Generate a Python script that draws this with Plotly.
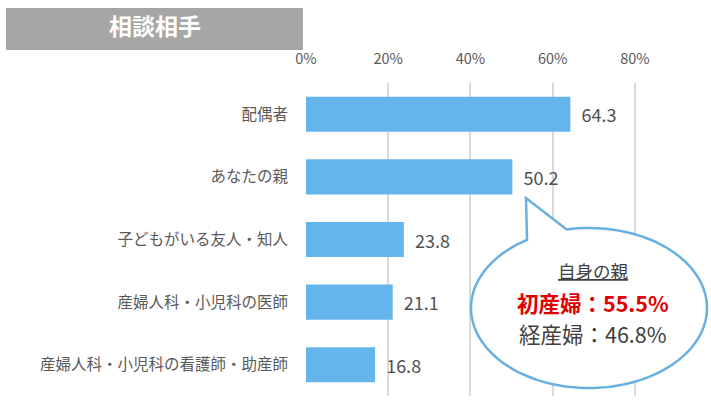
import numpy as np
import plotly.graph_objects as go

categories = ["配偶者", "あなたの親", "子どもがいる友人・知人",
              "産婦人科・小児科の医師", "産婦人科・小児科の看護師・助産師"]
values = [64.3, 50.2, 23.8, 21.1, 16.8]
tick_vals = [0, 20, 40, 60, 80]
tick_text = ["0%", "20%", "40%", "60%", "80%"]
title_text = "相談相手"
callout_title = "自身の親"
callout_first = "初産婦：55.5%"
callout_second = "経産婦：46.8%"

W, H = 711, 403
L, R, T, B = 306, 35, 83, 7
PW, PH = W - L - R, H - T - B

def px(x):
    return (x - L) / PW

def py(y):
    return (H - B - y) / PH

FONT = "Noto Sans CJK JP, Meiryo, sans-serif"

fig = go.Figure(go.Bar(
    x=values, y=categories, orientation="h",
    marker=dict(color="#64b5e9", line=dict(width=0)),
    text=[f"  {v:.1f}" for v in values], textposition="outside",
    textfont=dict(size=18, color="#505050", family=FONT),
    cliponaxis=False,
))

# callout bubble path (decoration)
cx, cy, rx, ry = 589, 308, 118, 80
tip = (526, 198)
t_right = np.degrees(np.arctan2(-0.9625, -0.186))
t_left = np.degrees(np.arctan2(-0.8375, -0.517)) + 360
ts = np.radians(np.linspace(t_right, t_left, 120))
pts = [(cx + rx * np.cos(t), cy + ry * np.sin(t)) for t in ts]
pts.append(tip)
path = "M " + " L ".join(f"{px(a):.5f},{py(b):.5f}" for a, b in pts) + " Z"

shapes = [
    dict(type="rect", xref="paper", yref="paper",
         x0=px(6), x1=px(303), y0=py(50), y1=py(8),
         fillcolor="#a6a6a6", line=dict(width=0), layer="above"),
    dict(type="path", xref="paper", yref="paper", path=path,
         fillcolor="white", line=dict(color="#68b0e0", width=2.5), layer="above"),
]

def ann(text, x, y, size, color):
    return dict(text=text, xref="paper", yref="paper", x=px(x), y=py(y),
                xanchor="center", yanchor="middle", showarrow=False,
                font=dict(size=size, color=color, family=FONT))

annotations = [
    ann(f"<b>{title_text}</b>", 154.5, 25, 23, "white"),
    ann(f"<u>{callout_title}</u>", 593, 270, 17.5, "#404040"),
    ann(f"<b>{callout_first}</b>", 593, 302, 21.5, "#e00000"),
    ann(callout_second, 593, 333, 21.5, "#404040"),
]

fig.update_layout(
    width=W, height=H,
    margin=dict(l=L, r=R, t=T, b=B),
    plot_bgcolor="white", paper_bgcolor="white",
    bargap=0.44, showlegend=False,
    shapes=shapes, annotations=annotations,
    font=dict(family=FONT, color="#595959"),
    xaxis=dict(range=[0, 90], side="top", tickvals=tick_vals, ticktext=tick_text,
               showgrid=True, gridcolor="#d9d9d9", gridwidth=2,
               zeroline=False, showline=False, ticks="",
               tickfont=dict(size=14.5, color="#595959"), ticklabelstandoff=15),
    yaxis=dict(categoryorder="array", categoryarray=categories,
               autorange="reversed", showgrid=False, zeroline=False, showline=False,
               ticks="", tickfont=dict(size=15.5, color="#595959"),
               ticklabelstandoff=17),
)

fig.write_html("out.html", config={"displayModeBar": False},
               post_script="document.body.style.margin='0';document.body.style.overflow='hidden';")
